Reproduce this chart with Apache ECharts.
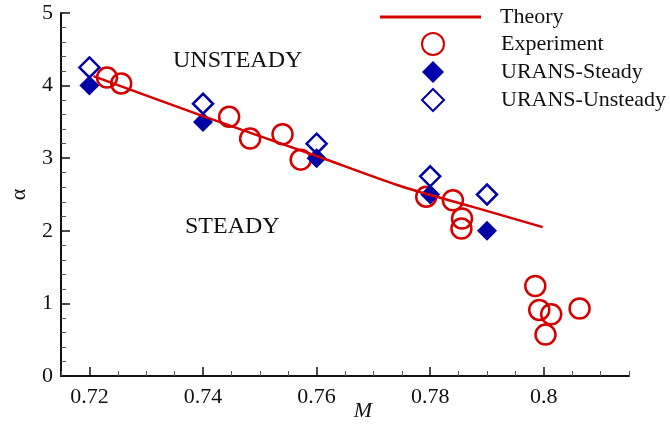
<!DOCTYPE html>
<html>
<head>
<meta charset="utf-8">
<script src="https://cdn.jsdelivr.net/npm/echarts@6/dist/echarts.min.js"></script>
<style>
  html, body { margin: 0; padding: 0; background: #fff; }
  #chart { width: 670px; height: 430px; }
</style>
</head>
<body>
<div id="chart"></div>
<script>
// data
const theory = [[0.7207, 4.13], [0.74, 3.58], [0.76, 3.03], [0.775, 2.61], [0.7875, 2.33], [0.7998, 2.05]];
const experiment = [
  [0.7231, 4.11], [0.7256, 4.03], [0.7446, 3.57], [0.7483, 3.27], [0.7540, 3.33], [0.7572, 2.98],
  [0.7793, 2.47], [0.7840, 2.42], [0.7856, 2.17], [0.7855, 2.03],
  [0.7985, 1.24], [0.7992, 0.91], [0.8013, 0.85], [0.8063, 0.93], [0.8003, 0.57]
];
const uransSteady = [[0.72, 4.0], [0.74, 3.5], [0.76, 3.0], [0.78, 2.5], [0.79, 2.0]];
const uransUnsteady = [[0.72, 4.25], [0.74, 3.75], [0.76, 3.2], [0.78, 2.75], [0.79, 2.5]];
const xLabels = [0.72, 0.74, 0.76, 0.78, 0.8];
const xMinor = [0.715, 0.725, 0.73, 0.735, 0.745, 0.75, 0.755, 0.765, 0.77, 0.775, 0.785, 0.79, 0.795, 0.805, 0.81, 0.815];

const RED = '#d40000';
const BLUE = '#0000a8';
const FONT = "'Liberation Serif', 'Times New Roman', serif";

const chart = echarts.init(document.getElementById('chart'));

const legendText = (pad) => ({ fontFamily: FONT, fontSize: 22, color: '#111', lineHeight: 20, padding: [0, 0, 0, pad] });

chart.setOption({
  animation: false,
  grid: { left: 61, right: 41, top: 13, bottom: 54, outerBoundsMode: 'none' },
  textStyle: { fontFamily: FONT },
  legend: [{
    left: 375,
    top: 1,
    itemWidth: 101,
    itemHeight: 3,
    textStyle: legendText(14),
    data: [{ name: 'Theory', icon: 'rect' }]
  }, {
    orient: 'vertical',
    left: 416,
    top: 27,
    itemWidth: 22,
    itemHeight: 22,
    itemGap: 5,
    textStyle: legendText(52),
    data: ['Experiment', 'URANS-Steady', 'URANS-Unsteady']
  }],
  xAxis: [{
    type: 'value',
    min: 0.715,
    max: 0.815,
    name: 'M',
    nameLocation: 'middle',
    nameGap: 24,
    nameMoveOverlap: false,
    nameTextStyle: { fontFamily: FONT, fontSize: 22, fontStyle: 'italic', color: '#111', padding: [0, 0, 0, 36] },
    splitLine: { show: false },
    axisLine: { lineStyle: { color: '#111', width: 2 } },
    axisTick: { inside: true, length: 9, customValues: xLabels, lineStyle: { color: '#111', width: 1.5 } },
    axisLabel: { customValues: xLabels, margin: 10, fontFamily: FONT, fontSize: 22, color: '#111' }
  }, {
    type: 'value',
    min: 0.715,
    max: 0.815,
    position: 'bottom',
    splitLine: { show: false },
    axisLine: { show: false },
    axisTick: { inside: true, length: 5, customValues: xMinor, lineStyle: { color: '#555', width: 1 } },
    axisLabel: { show: false }
  }],
  yAxis: {
    type: 'value',
    min: 0,
    max: 5,
    interval: 1,
    name: 'α',
    nameLocation: 'middle',
    nameRotate: 90,
    nameGap: 31,
    nameMoveOverlap: false,
    nameTextStyle: { fontFamily: FONT, fontSize: 22, color: '#111' },
    splitLine: { show: false },
    axisLine: { show: true, lineStyle: { color: '#111', width: 2 } },
    axisTick: { inside: true, length: 9, lineStyle: { color: '#111', width: 1.5 } },
    minorTick: { show: true, splitNumber: 5, length: 5, lineStyle: { color: '#555', width: 1 } },
    axisLabel: { margin: 8, fontFamily: FONT, fontSize: 22, color: '#111' }
  },
  graphic: [
    { type: 'text', left: 173, top: 49, style: { text: 'UNSTEADY', font: "24px 'Liberation Serif', serif", fill: '#111' } },
    { type: 'text', left: 185, top: 215, style: { text: 'STEADY', font: "24px 'Liberation Serif', serif", fill: '#111' } }
  ],
  series: [
    {
      name: 'Theory',
      type: 'line',
      data: theory,
      symbol: 'none',
      smooth: 0.3,
      lineStyle: { color: RED, width: 2.5 },
      itemStyle: { color: RED }
    },
    {
      name: 'Experiment',
      type: 'scatter',
      data: experiment,
      symbol: 'circle',
      symbolSize: 20,
      itemStyle: { color: 'rgba(0,0,0,0)', borderColor: RED, borderWidth: 2.5, opacity: 1 }
    },
    {
      name: 'URANS-Steady',
      type: 'scatter',
      data: uransSteady,
      symbol: 'diamond',
      symbolSize: 20,
      itemStyle: { color: BLUE, opacity: 1 }
    },
    {
      name: 'URANS-Unsteady',
      type: 'scatter',
      data: uransUnsteady,
      symbol: 'diamond',
      symbolSize: 20,
      itemStyle: { color: 'rgba(0,0,0,0)', borderColor: BLUE, borderWidth: 2.5, opacity: 1 }
    }
  ]
});
</script>
</body>
</html>
